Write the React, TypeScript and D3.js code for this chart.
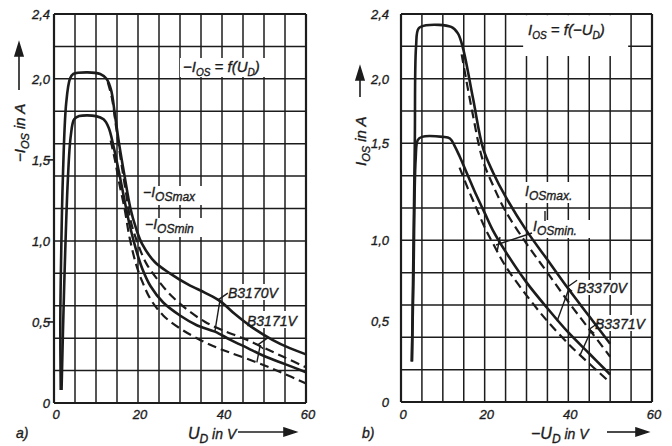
import React from 'react'
import * as d3 from 'd3'

type Pt = [number, number]

// grid and ticks (U in V, I in A)
const gridU = [0, 5, 10, 15, 20, 25, 30, 35, 40, 45, 50, 55, 60]
const gridI = [0, 0.2, 0.4, 0.6, 0.8, 1.0, 1.2, 1.4, 1.6, 1.8, 2.0, 2.2, 2.4]
const xTicks = [0, 20, 40, 60]
const xTickLabels = ['0', '20', '40', '60']
const yTickLabels = ['0', '0,5', '1,0', '1,5', '2,0', '2,4']
const yTicksA = [0, 0.5, 1.0, 1.5, 2.0, 2.4]
const yTicksB = [0, 0.5, 1.0, 1.6, 2.0, 2.4] // label "1,5" sits one grid line high in the original
const minorTicksA = [0.5, 1.5]

// a) -I_OS = f(U_D)
const aSolidMax: Pt[] = [[1.6, 0.08], [1.5, 0.5], [1.7, 0.9], [2.1, 1.38], [2.9, 1.85], [3.8, 2.0], [4.6, 2.03], [8, 2.04], [11, 2.03], [12.5, 2.0], [13.6, 1.93], [14.5, 1.78], [15.5, 1.6], [16.8, 1.4], [18.2, 1.2], [19.5, 1.08], [21, 0.98], [24, 0.87], [27.6, 0.8], [32, 0.73], [36, 0.68], [39.5, 0.63], [43, 0.55], [47, 0.47], [52, 0.39], [56, 0.34], [60, 0.3]]
const aSolidMin: Pt[] = [[1.8, 0.08], [2.4, 0.7], [3.3, 1.38], [4.0, 1.65], [4.8, 1.75], [6, 1.77], [10, 1.77], [11.8, 1.75], [13, 1.7], [14.2, 1.58], [15.5, 1.42], [16.8, 1.25], [18, 1.1], [19.5, 0.95], [21, 0.83], [23, 0.72], [26, 0.62], [30, 0.54], [34, 0.48], [38.3, 0.44], [42, 0.39], [46, 0.34], [50, 0.29], [55, 0.24], [60, 0.19]]
const aDashMax: Pt[] = [[12.8, 1.98], [13.8, 1.88], [14.8, 1.7], [15.8, 1.52], [17, 1.32], [18.3, 1.12], [20, 0.98], [22, 0.86], [25, 0.75], [28, 0.66], [32, 0.57], [36, 0.5], [40, 0.45], [45, 0.4], [50, 0.34], [55, 0.28], [60, 0.22]]
const aDashMin: Pt[] = [[13.5, 1.62], [14.5, 1.5], [15.5, 1.36], [16.8, 1.2], [18, 1.02], [19.5, 0.86], [21, 0.75], [23, 0.64], [26, 0.54], [30, 0.46], [34, 0.4], [38, 0.35], [42, 0.31], [48.3, 0.25], [54, 0.19], [60, 0.12]]

// b) I_OS = f(-U_D)
const bSolidMax: Pt[] = [[2.6, 0.25], [2.9, 0.8], [3.3, 1.6], [3.6, 2.2], [4.2, 2.31], [6, 2.33], [12, 2.32], [13.6, 2.28], [14.8, 2.19], [17.2, 1.88], [19.6, 1.57], [22, 1.42], [25, 1.27], [30, 1.06], [35, 0.88], [40, 0.7], [45, 0.53], [50, 0.36]]
const bSolidMin: Pt[] = [[2.6, 0.25], [3.0, 0.8], [3.5, 1.5], [4.0, 1.62], [5, 1.64], [10, 1.64], [11.7, 1.63], [12.9, 1.58], [14, 1.52], [16, 1.4], [18, 1.28], [20, 1.17], [22, 1.06], [25, 0.93], [30, 0.74], [35, 0.58], [40, 0.43], [45, 0.3], [50, 0.17]]
const bDashMax: Pt[] = [[14.5, 2.15], [17, 1.8], [19.5, 1.5], [22, 1.34], [25, 1.18], [30, 0.98], [35, 0.8], [40, 0.62], [45, 0.45], [50, 0.28]]
const bDashMin: Pt[] = [[14, 1.45], [16, 1.32], [18, 1.2], [20, 1.08], [22, 0.98], [25, 0.84], [30, 0.66], [35, 0.5], [40, 0.36], [42.8, 0.29], [50, 0.12]]

// pointer anchors (on the curves)
const aPtr3170: Pt[] = [[39, 0.635], [38.3, 0.44]]
const aPtr3171: Pt[] = [[48.6, 0.36], [48.3, 0.25]]
const bPtr3370: Pt[] = [[39.7, 0.71], [37.3, 0.5]]
const bPtr3371: Pt[] = [[45, 0.45], [42.8, 0.29]]

const ink = '#1c1c1c'
const font = "'Liberation Sans', Arial, sans-serif"

const xA = d3.scaleLinear().domain([0, 60]).range([54, 306])
const yA = d3.scaleLinear().domain([0, 2.4]).range([403, 14])
const xB = d3.scaleLinear().domain([0, 60]).range([401, 652])
const yB = d3.scaleLinear().domain([0, 2.4]).range([402, 14])

type Sc = d3.ScaleLinear<number, number>

const mkLine = (x: Sc, y: Sc) =>
  d3.line<Pt>().x(d => x(d[0])).y(d => y(d[1])).curve(d3.curveCatmullRom.alpha(0.5))

function Grid({ x, y }: { x: Sc; y: Sc }) {
  return (
    <g stroke={ink}>
      {gridU.map(u => (
        <line key={'v' + u} x1={x(u)} x2={x(u)} y1={y(0)} y2={y(2.4)} strokeWidth={u === 0 || u === 60 ? 2.2 : 1.5} />
      ))}
      {gridI.map(i => (
        <line key={'h' + i} x1={x(0)} x2={x(60)} y1={y(i)} y2={y(i)} strokeWidth={i === 0 || i === 2.4 ? 2.2 : 1.5} />
      ))}
    </g>
  )
}

function Sub({ t, size = 10 }: { t: string; size?: number }) {
  return <tspan dy={4} fontSize={size}>{t}</tspan>
}

function Pointer({ x, y, p }: { x: Sc; y: Sc; p: Pt[] }) {
  const [a, b] = p
  const ax = x(a[0]), ay = y(a[1]), bx = x(b[0]), by = y(b[1])
  return (
    <g stroke={ink} strokeWidth={1.4} fill="none">
      <path d={`M${ax + 10},${ay - 7} L${ax},${ay} L${ax + 5},${ay + 4}`} />
      <line x1={ax + 2} y1={ay + 1} x2={bx} y2={by} />
    </g>
  )
}

export default function App() {
  const lA = mkLine(xA, yA)
  const lB = mkLine(xB, yB)
  const solid = { fill: 'none', stroke: ink, strokeWidth: 2.6 }
  const dashed = { fill: 'none', stroke: ink, strokeWidth: 2.2, strokeDasharray: '9 5' }
  return (
    <div style={{ position: 'absolute', left: 0, top: 0 }}>
      <svg width={672} height={446} style={{ display: 'block', background: '#fff' }} fontFamily={font} fontStyle="italic" fill={ink}>
        <Grid x={xA} y={yA} />
        <Grid x={xB} y={yB} />

        {/* label backgrounds */}
        <g fill="#fff" stroke="none">
          <rect x={180} y={58} width={100} height={19} />
          <rect x={143} y={186} width={60} height={19} />
          <rect x={143} y={218} width={66} height={19} />
          <rect x={226} y={284} width={58} height={16} />
          <rect x={245} y={311} width={56} height={17} />
          <rect x={xB(29.2)} y={yB(2.4) + 1.2} width={xB(54.3) - xB(29.2)} height={yB(2.14) - yB(2.4) - 1.2} />
          <rect x={523} y={182} width={54} height={21} />
          <rect x={531} y={220} width={60} height={18} />
          <rect x={575} y={280} width={55} height={15} />
          <rect x={593} y={315} width={50} height={16} />
        </g>

        {/* minor ticks on panel a */}
        {minorTicksA.map(v => (
          <line key={v} x1={xA(0) - 6} x2={xA(0)} y1={yA(v)} y2={yA(v)} stroke={ink} strokeWidth={1.6} />
        ))}

        {/* curves a */}
        <path d={lA(aSolidMax) ?? ''} {...solid} />
        <path d={lA(aSolidMin) ?? ''} {...solid} />
        <path d={lA(aDashMax) ?? ''} {...dashed} />
        <path d={lA(aDashMin) ?? ''} {...dashed} />
        {/* curves b */}
        <path d={lB(bSolidMax) ?? ''} {...solid} />
        <path d={lB(bSolidMin) ?? ''} {...solid} />
        <path d={lB(bDashMax) ?? ''} {...dashed} />
        <path d={lB(bDashMin) ?? ''} {...dashed} />

        <Pointer x={xA} y={yA} p={aPtr3170} />
        <Pointer x={xA} y={yA} p={aPtr3171} />
        <Pointer x={xB} y={yB} p={bPtr3370} />
        <Pointer x={xB} y={yB} p={bPtr3371} />

        <g stroke={ink} strokeWidth={0.35}>
          {/* tick labels */}
          <g fontSize={13}>
            {yTicksA.map((v, i) => (
              <text key={'ya' + v} x={xA(0) - 4} y={yA(v) + 5} textAnchor="end">{yTickLabels[i]}</text>
            ))}
            {yTicksB.map((v, i) => (
              <text key={'yb' + v} x={xB(0) - 12} y={yB(v) + 5} textAnchor="end">{yTickLabels[i]}</text>
            ))}
            {xTicks.map((v, i) => (
              <text key={'xa' + v} x={xA(v) + 2} y={419} textAnchor="middle">{xTickLabels[i]}</text>
            ))}
            {xTicks.map((v, i) => (
              <text key={'xb' + v} x={xB(v) + 2} y={419} textAnchor="middle">{xTickLabels[i]}</text>
            ))}
          </g>

          {/* titles */}
          <text x={183} y={72} fontSize={15}>−I<Sub t="OS" /><tspan dy={-4}> = f(U</tspan><Sub t="D" /><tspan dy={-4}>)</tspan></text>
          <text x={528} y={35} fontSize={15}>I<Sub t="OS" /><tspan dy={-4}> = f(−U</tspan><Sub t="D" /><tspan dy={-4}>)</tspan></text>

          {/* curve labels a */}
          <text x={143} y={197} fontSize={14}>−I<Sub t="OSmax" size={12} /></text>
          <text x={145} y={229} fontSize={14}>−I<Sub t="OSmin" size={12} /></text>
          <text x={228} y={298} fontSize={14}>B3170V</text>
          <text x={247} y={326} fontSize={14}>B3171V</text>
          {/* curve labels b */}
          <text x={525} y={196} fontSize={14}>I<Sub t="OSmax." size={12} /></text>
          <text x={533} y={231} fontSize={14}>I<Sub t="OSmin." size={12} /></text>
          <text x={577} y={293} fontSize={14}>B3370V</text>
          <text x={595} y={329} fontSize={14}>B3371V</text>

          {/* axis titles */}
          <text x={188} y={439} fontSize={16}>U<Sub t="D" size={12} /><tspan dy={-4} fontSize={14}> in V</tspan></text>
          <text x={531} y={439} fontSize={16}>−U<Sub t="D" size={12} /><tspan dy={-4} fontSize={14}> in V</tspan></text>
          <text x={16} y={438} fontSize={14}>a)</text>
          <text x={362} y={438} fontSize={14}>b)</text>
          <text transform="translate(25,162) rotate(-90)" fontSize={15}>−I<Sub t="OS" size={11} /><tspan dy={-4}> in A</tspan></text>
          <text transform="translate(366,166) rotate(-90)" fontSize={15}>I<Sub t="OS" size={11} /><tspan dy={-4}> in A</tspan></text>
        </g>

        <g stroke={ink} strokeWidth={1.4}>
          <line x1={545} y1={211} x2={545} y2={221} />
          <line x1={532} y1={233} x2={496} y2={245} />
          <line x1={500} y1={237} x2={497} y2={252} />
        </g>
        <g stroke={ink} strokeWidth={1.6} fill={ink}>
          <line x1={238} y1={432} x2={284} y2={432} />
          <path d="M284,428 L296,432 L284,436 Z" />
          <line x1={607} y1={432} x2={636} y2={432} />
          <path d="M636,428 L648,432 L636,436 Z" />
          <line x1={19} y1={90} x2={19} y2={56} />
          <path d="M15,56 L19,43 L23,56 Z" />
          <line x1={360} y1={97} x2={360} y2={80} />
          <path d="M356,80 L360,67 L364,80 Z" />
        </g>
      </svg>
    </div>
  )
}
